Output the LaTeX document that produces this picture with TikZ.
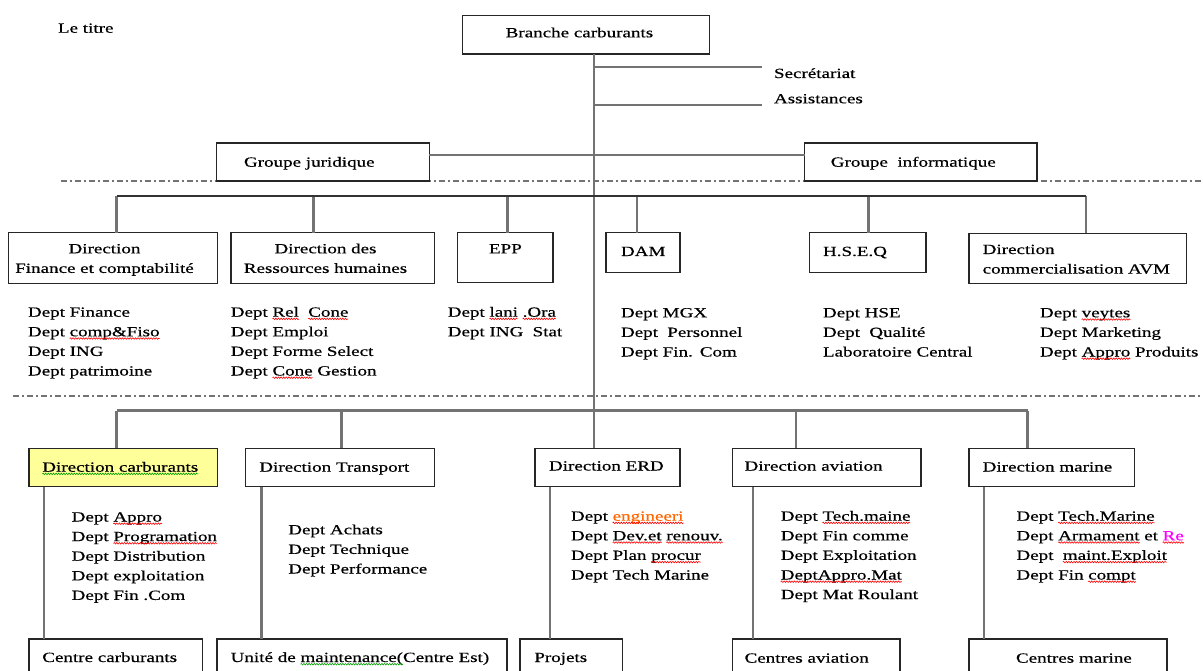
\documentclass[tikz,border=0pt]{standalone}
\usepackage{fontspec}
\setmainfont{Liberation Serif}[FakeStretch=1.36, FakeBold=0.5]
\usetikzlibrary{fit,decorations.pathmorphing}

\definecolor{linkgray}{HTML}{737373}
\definecolor{boxyellow}{HTML}{FFFF99}
\definecolor{spellred}{HTML}{FF0000}
\definecolor{spellgreen}{HTML}{00A000}
\definecolor{orangetxt}{HTML}{FF6600}
\definecolor{pinktxt}{HTML}{FF00FF}

\newcommand\orgfont{\fontsize{14}{19.6}\selectfont}

\tikzset{
  box/.style={draw=black!85, line width=1.5pt, fill=white, inner sep=0pt, outer sep=0pt},
  txt/.style={font=\orgfont, inner sep=0pt, outer sep=0pt, anchor=base west},
  lst/.style={txt, text width=280pt, align=left},
  ctxt/.style={font=\orgfont, inner sep=0pt, outer sep=0pt, text width=220pt, align=center, anchor=base},
  conn/.style={draw=linkgray, line width=2.6pt},
  busline/.style={draw=black!80, line width=1.8pt},
  sepline/.style={draw=black!55, line width=1.5pt, dash pattern=on 6pt off 3pt on 2pt off 3pt},
  wvtext/.style={inner sep=0pt, outer sep=0pt, text width=, text height=, text depth=, anchor=base,
                 draw=none, fill=none, minimum width=0pt, minimum height=0pt},
  wvline/.style={line width=0.6pt, decorate, decoration={snake, amplitude=0.75pt, segment length=2.6pt}, overlay},
  wavyred/.style={draw=spellred},
  wavygreen/.style={draw=spellgreen},
}

% word with a wavy proofing underline
\newcommand\wv[2][wavyred]{\tikz[baseline=(w.base)]{\node[wvtext] (w) {#2};%
  \draw[#1, wvline] ([yshift=-2.2pt]w.base west) -- ([yshift=-2.2pt]w.base east);}}

\begin{document}
\begin{tikzpicture}[x=1pt,y=-1pt]
\useasboundingbox (0,0) rectangle (1203,671);
\clip (0,0) rectangle (1203,671);

% separators between levels
\draw[sepline] (61,181) -- (1203,181);
\draw[sepline] (13,396) -- (1203,396);

% title
\node[txt] (title) at (58,32.7) {Le titre};

% head
\node[box, fit={(462.7,15.7) (709.3,54)}] (branche) {};
\node[txt] (branche-t) at (505.7,37.3) {Branche carburants};
\node[txt] (sec) at (774,78) {Secrétariat};
\node[txt] (assist) at (774,103.3) {Assistances};

% staff groups
\node[box, fit={(216.6,143) (429.4,181)}] (gjur) {};
\node[txt] (gjur-t) at (244,166.7) {Groupe juridique};
\node[box, fit={(804.6,143) (1037,181)}] (ginf) {};
\node[txt] (ginf-t) at (830.8,166.7) {Groupe\ \ informatique};

% first row of directions
\node[box, fit={(8.4,232.7) (217.4,283.3)}] (dfin) {};
\node[ctxt] (dfin-t) at (104.5,253.3) {Direction\\Finance et comptabilité};
\node[box, fit={(231,232.7) (434.4,283.3)}] (drh) {};
\node[ctxt] (drh-t) at (325.5,253.3) {Direction des\\Ressources humaines};
\node[box, fit={(457.7,232.7) (553,282.7)}] (epp) {};
\node[txt] (epp-t) at (489,253.3) {EPP};
\node[box, fit={(605.8,232.7) (680,272.3)}] (dam) {};
\node[txt] (dam-t) at (621,256) {DAM};
\node[box, fit={(809.6,232.7) (926,272.3)}] (hseq) {};
\node[txt] (hseq-t) at (823,256) {H.S.E.Q};
\node[box, fit={(969,233.3) (1186.5,283.3)}] (dcom) {};
\node[lst] (dcom-t) at (982.7,254) {Direction\\commercialisation AVM};

% departments of the first row
\node[lst] (lfin) at (28,316.7) {Dept Finance\\Dept \wv{comp\&Fiso}\\Dept ING\\Dept patrimoine};
\node[lst] (lrh) at (230.8,316.7) {Dept \wv{Rel}\ \ \wv{Cone}\\Dept Emploi\\Dept Forme Select\\Dept \wv{Cone} Gestion};
\node[lst] (lepp) at (447.8,316.7) {Dept \wv{lani} \wv{.Ora}\\Dept ING\ \ Stat};
\node[lst] (ldam) at (621,317.3) {Dept MGX\\Dept\ \ Personnel\\Dept Fin. Com};
\node[lst] (lhseq) at (823,317.3) {Dept HSE\\Dept\ \ Qualité\\Laboratoire Central};
\node[lst] (lcom) at (1040,317.3) {Dept \wv{veytes}\\Dept Marketing\\Dept \wv{Appro} Produits};

% second row of directions
\node[box, fill=boxyellow, fit={(29,448.3) (217.3,486.7)}] (dcarb) {};
\node[txt] (dcarb-t) at (42.3,471.7) {\wv[wavygreen]{Direction carburants}};
\node[box, fit={(245.7,448.3) (434.3,486.7)}] (dtrans) {};
\node[txt] (dtrans-t) at (259.3,471.7) {Direction Transport};
\node[box, fit={(535,448.3) (680,486.7)}] (derd) {};
\node[txt] (derd-t) at (549,470.5) {Direction ERD};
\node[box, fit={(732.7,448.3) (921,486.7)}] (daviat) {};
\node[txt] (daviat-t) at (744.6,470.7) {Direction aviation};
\node[box, fit={(969,448.3) (1134.6,486.7)}] (dmar) {};
\node[txt] (dmar-t) at (982.7,471.5) {Direction marine};

% departments of the second row
\node[lst] (lcarb) at (71.7,521.5) {Dept \wv{Appro}\\Dept \wv{Programation}\\Dept Distribution\\Dept exploitation\\Dept Fin .Com};
\node[lst] (ltrans) at (288.3,534.3) {Dept Achats\\Dept Technique\\Dept Performance};
\node[lst] (lerd) at (571,520.7) {Dept \wv{\textcolor{orangetxt}{engineeri}}\\Dept \wv{Dev.et} \wv{renouv.}\\Dept Plan \wv{procur}\\Dept Tech Marine};
\node[lst] (laviat) at (780.8,520.7) {Dept \wv{Tech.maine}\\Dept Fin comme\\Dept Exploitation\\\wv{DeptAppro.Mat}\\Dept Mat Roulant};
\node[lst] (lmar) at (1016.5,520.7) {Dept \wv{Tech.Marine}\\Dept \wv{Armament} et \wv{\textcolor{pinktxt}{Re}}\\Dept\ \ \wv{maint.Exploit}\\Dept Fin \wv{compt}};

% centres
\node[box, fit={(29,639) (202.7,690)}] (ccarb) {};
\node[txt] (ccarb-t) at (42.3,662) {Centre carburants};
\node[box, fit={(217,639) (507,690)}] (umaint) {};
\node[txt] (umaint-t) at (230.7,662) {Unité de \wv[wavygreen]{maintenance(}Centre Est)};
\node[box, fit={(520,639) (622.3,690)}] (proj) {};
\node[txt] (proj-t) at (534.3,662) {Projets};
\node[box, fit={(732.7,639) (900,690)}] (caviat) {};
\node[txt] (caviat-t) at (744.6,662.7) {Centres aviation};
\node[box, fit={(969,639) (1167,690)}] (cmar) {};
\node[txt] (cmar-t) at (1016,662.7) {Centres marine};

% main trunk and staff links
\coordinate (trunk) at (594,0);
\draw[conn] (branche.south -| trunk) -- (derd.north -| trunk);
\coordinate (secend) at (761.5,67);
\coordinate (assend) at (761.5,105);
\draw[conn] (trunk |- secend) -- (secend);
\draw[conn] (trunk |- assend) -- (assend);
\coordinate (gl) at (0,155);
\draw[conn] (gjur.east |- gl) -- (ginf.west |- gl);

% first bus
\foreach \b/\x in {dfin/116.7, drh/313.4, epp/507.5, dam/637, hseq/868.5, dcom/1085.8}{
  \coordinate (j-\b) at (\x,195.7);
  \draw[conn] (j-\b) -- (j-\b |- \b.north);
}
\draw[busline] (j-dfin) -- (j-dcom);

% second bus
\foreach \b/\x in {dcarb/116.7, dtrans/341.7, daviat/796, dmar/1027.7}{
  \coordinate (k-\b) at (\x,410.7);
  \draw[conn] (k-\b) -- (k-\b |- \b.north);
}
\draw[conn] (k-dcarb) -- (k-dmar);

% links from directions down to centres
\foreach \a/\c/\x in {dcarb/ccarb/44, dtrans/umaint/261.4, derd/proj/550, daviat/caviat/753, dmar/cmar/983.8}{
  \coordinate (v-\a) at (\x,0);
  \draw[conn] (\a.south -| v-\a) -- (\c.north -| v-\a);
}
\end{tikzpicture}
\end{document}
